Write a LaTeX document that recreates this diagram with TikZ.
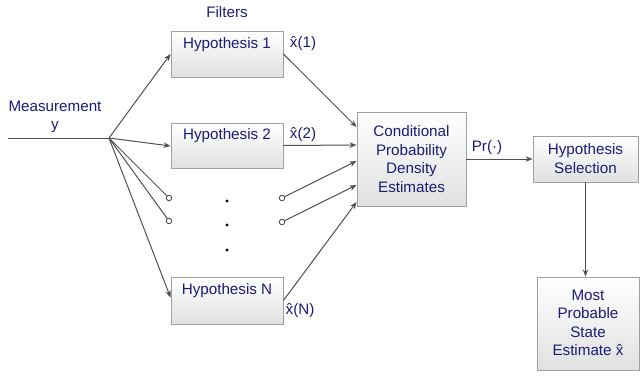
\documentclass[tikz,border=0pt]{standalone}
\usepackage{fontspec}
\setmainfont{Liberation Sans}
\usetikzlibrary{arrows.meta,shadows}
\definecolor{txtc}{RGB}{28,28,120}
\definecolor{linec}{RGB}{80,80,80}
\definecolor{boxline}{RGB}{160,160,160}
\tikzset{
  box/.style={draw=boxline, line width=0.9pt, top color=white, bottom color=black!12,
    drop shadow={shadow xshift=1.2pt, shadow yshift=-1.2pt, opacity=0.25}, inner sep=0pt},
  txt/.style={text=txtc, font=\fontsize{15.2}{18.5}\selectfont, align=center, inner sep=0pt},
  conn/.style={draw=linec, line width=1pt},
  arr/.style={conn, -{Stealth[length=7pt,width=5.5pt]}},
  opencirc/.style={circle, draw=linec, line width=0.9pt, fill=white, minimum size=5.5pt, inner sep=0pt},
  blackdot/.style={circle, fill=black, minimum size=3.2pt, inner sep=0pt}
}
\begin{document}
\begin{tikzpicture}[x=1pt,y=-1pt]
\useasboundingbox (0,0) rectangle (640,376);
% boxes
\node[box, minimum width=112pt, minimum height=46pt] (h1) at (227,54) {};
\node[box, minimum width=112pt, minimum height=45pt] (h2) at (227,145.5) {};
\node[box, minimum width=112pt, minimum height=47pt] (hN) at (227,300.5) {};
\node[box, minimum width=109pt, minimum height=94pt] (cpd) at (411.5,159) {};
\node[box, minimum width=105pt, minimum height=46pt] (hs) at (585.5,159) {};
\node[box, minimum width=102pt, minimum height=93pt] (mp) at (588,323.5) {};
% texts
\node[txt] (h1t) at (227,45) {Hypothesis 1};
\node[txt] (h2t) at (227,136) {Hypothesis 2};
\node[txt] (hNt) at (227,291) {Hypothesis N};
\node[txt] (cpdt) at (411.5,159) {Conditional\\Probability\\Density\\Estimates};
\node[txt] (hst) at (585.5,158.5) {Hypothesis\\Selection};
\node[txt] (mpt) at (588,323) {Most\\Probable\\State\\Estimate x̂};
\node[txt] (meas) at (55,117) {Measurement\\y};
\node[txt] (filt) at (227,12) {Filters};
\node[txt] (l1) at (303,44) {x̂(1)};
\node[txt] (l2) at (303,135) {x̂(2)};
\node[txt] (lN) at (300,311) {x̂(N)};
\node[txt] (pr) at (487,148) {Pr(·)};
% points
\coordinate (m0) at (8,138);
\coordinate (J) at (109,138);
\node[opencirc] (c1) at (169,198) {};
\node[opencirc] (c2) at (169,221) {};
\node[opencirc] (c3) at (282,198) {};
\node[opencirc] (c4) at (282,222) {};
\node[blackdot] (d1) at (227,201) {};
\node[blackdot] (d2) at (227,225) {};
\node[blackdot] (d3) at (227,250) {};
% connectors
\draw[conn] (m0) -- (J);
\draw[arr] (J) -- (h1.west);
\draw[arr] (J) -- ([yshift=-0.5pt]h2.west);
\draw[arr] (J) -- ([yshift=3pt]hN.west);
\draw[conn] (J) -- (c1);
\draw[conn] (J) -- (c2);
\draw[arr] (h1.east) -- ([yshift=32pt]cpd.west);
\draw[arr] (h2.east) -- ([yshift=14pt]cpd.west);
\draw[arr] (c3) -- ([yshift=-2pt]cpd.west);
\draw[arr] (c4) -- ([yshift=-26pt]cpd.west);
\draw[arr] (hN.east) -- ([yshift=-43pt]cpd.west);
\draw[arr] (cpd.east) -- (hs.west);
\draw[arr] (hs.south) -- (hs.south |- mp.north);
\end{tikzpicture}
\end{document}
